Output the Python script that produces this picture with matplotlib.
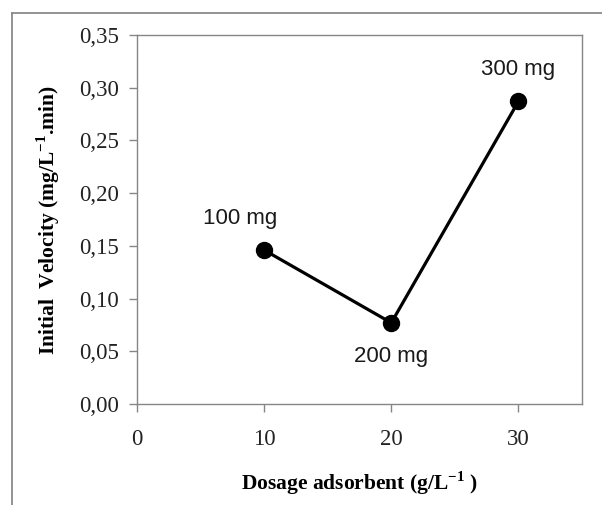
import matplotlib
matplotlib.use('Agg')
import matplotlib.pyplot as plt
from matplotlib.lines import Line2D

# data
dosage = [10, 20, 30]
velocity = [0.146, 0.077, 0.287]
point_labels = ["100 mg", "200 mg", "300 mg"]
label_offsets = [(-17, 23), (0, -24), (0, 23)]  # points, relative to each marker

x_ticks = [0, 10, 20, 30]
y_ticks = [0.00, 0.05, 0.10, 0.15, 0.20, 0.25, 0.30, 0.35]

plt.rcParams['mathtext.fontset'] = 'custom'
plt.rcParams['mathtext.rm'] = 'Liberation Serif:bold'
plt.rcParams['mathtext.bf'] = 'Liberation Serif:bold'

fig = plt.figure(figsize=(6.02, 5.05), dpi=100)
W, H = 602, 505
ax = fig.add_axes([137 / W, 1 - 404 / H, (582 - 137) / W, (404 - 35) / H])

# outer frame (only top and left edge visible in the crop)
frame_c = '#8a8a8a'
fig.add_artist(Line2D([12 / W, 12 / W], [0, 1 - 13 / H], color=frame_c, lw=1.3))
fig.add_artist(Line2D([12 / W, 1], [1 - 13 / H, 1 - 13 / H], color=frame_c, lw=1.3))

ax.plot(dosage, velocity, color='black', lw=2.3, marker='o', markersize=11.5,
        markerfacecolor='black', markeredgecolor='black')

for x, y, txt, off in zip(dosage, velocity, point_labels, label_offsets):
    ax.annotate(txt, (x, y), xytext=off, textcoords='offset points',
                ha='center', va='center', fontsize=16,
                family='Liberation Sans', color='#1a1a1a')

ax.set_xlim(0, 35)
ax.set_ylim(0, 0.35)
ax.set_xticks(x_ticks)
ax.set_yticks(y_ticks)
ax.set_xticklabels([str(t) for t in x_ticks])
ax.set_yticklabels([f"{t:.2f}".replace('.', ',') for t in y_ticks])

spine_c = '#868686'
for s in ax.spines.values():
    s.set_color(spine_c)
    s.set_linewidth(1.0)
ax.tick_params(direction='out', length=6, width=1.0, color=spine_c,
               labelsize=16.5, labelcolor='#222222', pad=7)
for lab in ax.get_xticklabels() + ax.get_yticklabels():
    lab.set_family('Liberation Serif')
ax.tick_params(axis='x', pad=12)

ax.set_xlabel(r"Dosage adsorbent (g/L$^{-1}$ )", family='Liberation Serif',
              fontweight='bold', fontsize=15.5, labelpad=14)
ax.set_ylabel(r"Initial  Velocity (mg/L$^{-1}$.min)", family='Liberation Serif',
              fontweight='bold', fontsize=15.5, labelpad=12)

fig.savefig('out.png', dpi=100)
